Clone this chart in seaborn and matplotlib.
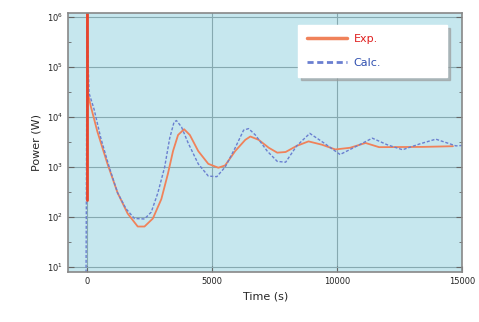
import numpy as np
import pandas as pd
import seaborn as sns
import matplotlib.pyplot as plt
from matplotlib.ticker import FixedLocator, NullFormatter

exp_t = [0, 0, 30, 149, 415, 818, 1221, 1624, 2027, 2297, 2632, 2970, 3236, 3438,
         3639, 3881, 4111, 4445, 4848, 5251, 5521, 5924, 6327, 6529, 6863, 7266,
         7605, 7939, 8382, 8854, 9390, 9926, 10518, 11135, 11675, 13420, 14629]
exp_p = [220, 1.5e6, 3.0e4, 1.65e4, 5080, 1160, 307, 118, 65, 65, 94, 229, 743, 2090,
         4370, 5700, 4370, 2090, 1160, 970, 1080, 2090, 3500, 4080, 3500, 2430,
         1940, 2000, 2650, 3260, 2800, 2250, 2430, 3030, 2500, 2530, 2610]

# Calculation
calc_t = [-40, 0, 81, 282, 552, 887, 1221, 1560, 1894, 2297, 2567, 2833, 3103, 3305,
          3478, 3575, 3776, 4042, 4445, 4848, 5187, 5521, 5924, 6259, 6460, 6730,
          7202, 7605, 7939, 8382, 8906, 9471, 10115, 10800, 11405, 12009, 12614,
          13299, 13944, 14750, 14990]
calc_p = [5, 6.8e5, 3.0e4, 1.43e4, 3780, 1000, 307, 147, 94, 92, 126, 307, 1000, 3780,
          7900, 8490, 6340, 3030, 1160, 662, 643, 1000, 2430, 5460, 5870, 4370,
          2090, 1300, 1250, 2650, 4710, 3030, 1780, 2650, 3780, 2780, 2220,
          2900, 3610, 2650, 2700]

exp_df = pd.DataFrame({'t': exp_t, 'p': exp_p})
calc_df = pd.DataFrame({'t': calc_t, 'p': calc_p})

sns.set_style('ticks')
fig = plt.figure(figsize=(4.79, 3.22), dpi=100)
ax = fig.add_axes([0.142, 0.155, 0.823, 0.805])
ax.set_facecolor('#c6e7ee')

sns.lineplot(data=exp_df, x='t', y='p', ax=ax, estimator=None, sort=False,
             color='#f0825a', linewidth=1.3, label='Exp.')
sns.lineplot(data=calc_df, x='t', y='p', ax=ax, estimator=None, sort=False,
             color='#6a7fd0', linewidth=1.0, label='Calc.')
ax.lines[1].set_dashes([2.2, 1.3])
# the initial rise of the experiment shows as a stronger red stroke
sns.lineplot(data=exp_df.iloc[:2], x='t', y='p', ax=ax, estimator=None, sort=False,
             color='#e8452c', linewidth=2.0, legend=False)

ax.set_yscale('log')
ax.set_xlim(-760, 15000)
ax.set_ylim(8, 1.2e6)
ax.set_xticks([0, 5000, 10000, 15000])
ax.set_yticks([1e1, 1e2, 1e3, 1e4, 1e5, 1e6])
ax.yaxis.set_minor_locator(FixedLocator([10 ** (n + 0.5) for n in range(1, 6)]))
ax.yaxis.set_minor_formatter(NullFormatter())
ax.grid(True, which='major', color='#86a9b0', linewidth=0.8)
ax.tick_params(which='both', direction='in', right=True, labelsize=6, colors='#666666',
               labelcolor='#222222')
ax.tick_params(which='major', length=4)
ax.tick_params(which='minor', length=2)
for s in ax.spines.values():
    s.set_color('#888888')
    s.set_linewidth(1.2)

ax.set_xlabel('Time (s)', fontsize=8)
ax.set_ylabel('Power (W)', fontsize=8)

leg = ax.legend(loc='upper left', fontsize=8, frameon=True, fancybox=False,
                shadow={'color': '#999999', 'alpha': 0.6}, handlelength=3.6,
                handletextpad=0.6, borderpad=0.8, labelspacing=1.3, mode='expand',
                bbox_to_anchor=(0.570, 0.76, 0.405, 0.215))
leg.get_frame().set_edgecolor('white')
leg.get_frame().set_alpha(1)
leg.get_lines()[1].set_dashes([2.2, 1.3])
leg.get_lines()[0].set_linewidth(2.5)
leg.get_lines()[1].set_linewidth(2.0)
leg.get_texts()[0].set_color('#e02020')
leg.get_texts()[1].set_color('#3050b0')

fig.savefig('out.png', dpi=100)
